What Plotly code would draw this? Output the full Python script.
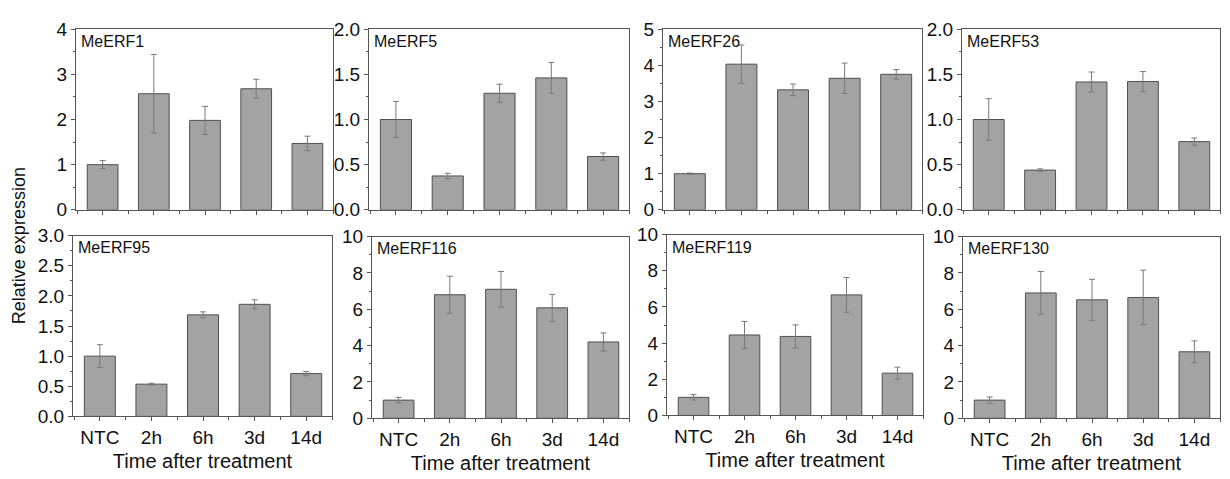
import plotly.graph_objects as go

W, H = 1230, 479

categories = ["NTC", "2h", "6h", "3d", "14d"]

genes = ["MeERF1", "MeERF5", "MeERF26", "MeERF53",
         "MeERF95", "MeERF116", "MeERF119", "MeERF130"]

erf1_mean = [1.00, 2.57, 1.98, 2.68, 1.47]
erf1_err = [0.09, 0.87, 0.31, 0.21, 0.16]

erf5_mean = [1.00, 0.375, 1.29, 1.46, 0.59]
erf5_err = [0.20, 0.03, 0.10, 0.17, 0.04]

erf26_mean = [1.00, 4.03, 3.32, 3.64, 3.75]
erf26_err = [0.02, 0.53, 0.16, 0.42, 0.13]

erf53_mean = [1.00, 0.44, 1.415, 1.42, 0.755]
erf53_err = [0.23, 0.013, 0.11, 0.11, 0.04]

erf95_mean = [1.00, 0.535, 1.685, 1.86, 0.71]
erf95_err = [0.19, 0.015, 0.05, 0.075, 0.035]

erf116_mean = [1.00, 6.80, 7.10, 6.08, 4.20]
erf116_err = [0.15, 1.02, 0.98, 0.74, 0.50]

erf119_mean = [1.00, 4.45, 4.37, 6.67, 2.34]
erf119_err = [0.15, 0.75, 0.64, 0.96, 0.33]

erf130_mean = [1.00, 6.90, 6.52, 6.65, 3.66]
erf130_err = [0.17, 1.18, 1.13, 1.50, 0.60]

means = [erf1_mean, erf5_mean, erf26_mean, erf53_mean,
         erf95_mean, erf116_mean, erf119_mean, erf130_mean]
errs = [erf1_err, erf5_err, erf26_err, erf53_err,
        erf95_err, erf116_err, erf119_err, erf130_err]

y_max = [4, 2.0, 5, 2.0, 3.0, 10, 10, 10]
y_dtick = [1, 0.5, 1, 0.5, 0.5, 2, 2, 2]
y_fmt = [".0f", ".1f", ".0f", ".1f", ".1f", ".0f", ".0f", ".0f"]

# panel boxes in pixels: (left, right, top, bottom)
boxes = [(76, 333, 20, 209), (369, 629, 20, 209), (663, 922, 20, 209), (962, 1220, 20, 209),
         (73, 332, 236, 425), (372, 629, 237, 427), (667, 923, 235, 424), (963, 1220, 237, 427)]

FONT = "Arial, Liberation Sans, sans-serif"
AX = "#555555"
TXT = "#111111"

fig = go.Figure()
for i in range(8):
    n = i + 1
    xa = "x" if n == 1 else f"x{n}"
    ya = "y" if n == 1 else f"y{n}"
    fig.add_trace(go.Bar(
        x=list(range(len(categories))), y=means[i],
        width=0.6,
        marker=dict(color="#a3a3a3", line=dict(color="#4f4f4f", width=1)),
        error_y=dict(type="data", array=errs[i], color="#7a7a7a", thickness=1, width=3),
        xaxis=xa, yaxis=ya, showlegend=False,
    ))
    l, r, t, b = boxes[i]
    bottom_row = i >= 4
    xkey = "xaxis" if n == 1 else f"xaxis{n}"
    ykey = "yaxis" if n == 1 else f"yaxis{n}"
    fig.layout[xkey] = dict(
        domain=[l / W, r / W], anchor=ya, range=[-0.52, 4.5],
        tickmode="array", tickvals=list(range(5)),
        ticktext=categories if bottom_row else [""] * 5,
        showticklabels=bottom_row,
        ticks="outside", ticklen=4, tickcolor=AX, tickwidth=1,
        minor=dict(ticks="outside", ticklen=3, tick0=0.5, dtick=1, tickcolor=AX),
        showline=True, linecolor=AX, linewidth=1, mirror=True,
        showgrid=False, zeroline=False,
        tickfont=dict(family=FONT, size=19, color=TXT),
        title=dict(text="Time after treatment" if bottom_row else "",
                   font=dict(family=FONT, size=20, color=TXT), standoff=6),
    )
    fig.layout[ykey] = dict(
        domain=[1 - b / H, 1 - t / H], anchor=xa, range=[0, y_max[i]],
        tickmode="linear", tick0=0, dtick=y_dtick[i], tickformat=y_fmt[i],
        ticks="outside", ticklen=4, tickcolor=AX, tickwidth=1,
        minor=dict(ticks="outside", ticklen=2, dtick=y_dtick[i] / 2, tickcolor=AX),
        showline=True, linecolor=AX, linewidth=1, mirror=True,
        showgrid=False, zeroline=False,
        tickfont=dict(family=FONT, size=19, color=TXT),
    )
    fig.add_annotation(
        text=genes[i], xref=f"{xa} domain", yref=f"{ya} domain",
        x=0.012, y=0.99, xanchor="left", yanchor="top", showarrow=False,
        font=dict(family=FONT, size=16, color=TXT),
    )

fig.add_annotation(
    text="Relative expression", xref="paper", yref="paper",
    x=19 / W, y=1 - 247 / H, textangle=-90, showarrow=False,
    xanchor="center", yanchor="middle",
    font=dict(family=FONT, size=18, color=TXT),
)

fig.update_layout(
    width=W, height=H, margin=dict(l=0, r=0, t=0, b=0),
    paper_bgcolor="white", plot_bgcolor="white", bargap=0.4,
)

fig.write_html("out.html")
